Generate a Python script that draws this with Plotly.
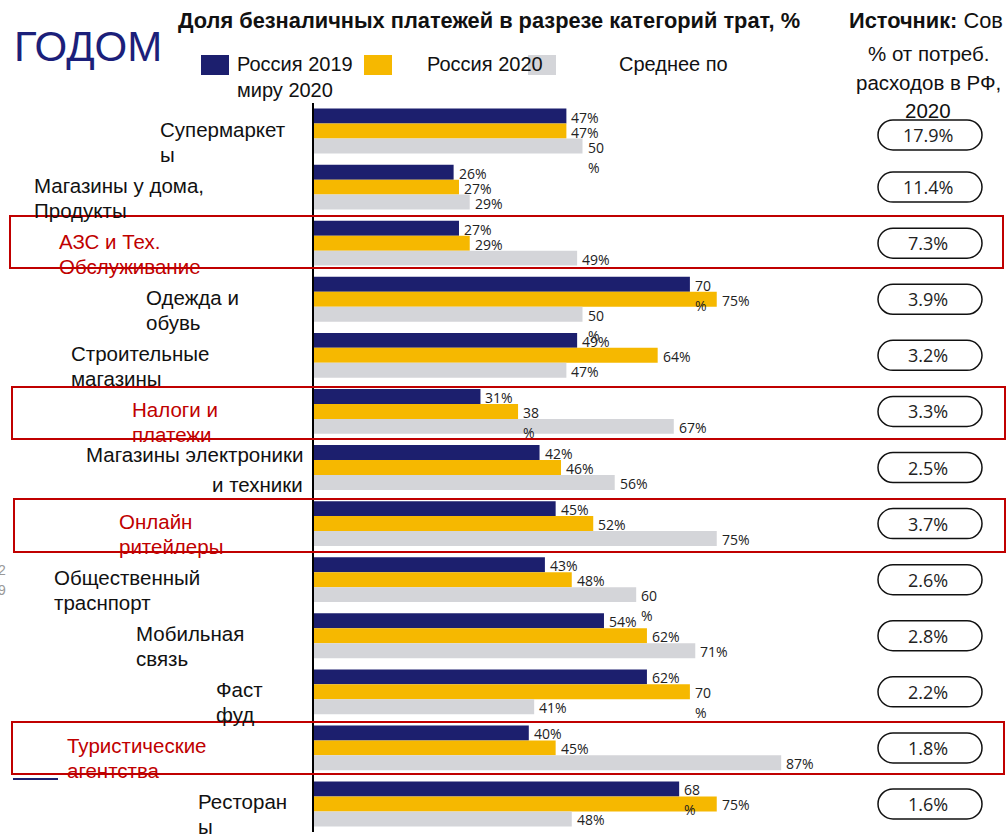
import plotly.graph_objects as go

# ---------------- data ----------------
categories = ["Супермаркеты", "Магазины у дома, Продукты", "АЗС и Тех. Обслуживание",
              "Одежда и обувь", "Строительные магазины", "Налоги и платежи",
              "Магазины электроники и техники", "Онлайн ритейлеры", "Общественный траснпорт",
              "Мобильная связь", "Фаст фуд", "Туристические агентства", "Рестораны"]
label_lines = [("Супермаркет", "ы"), ("Магазины у дома,", "Продукты"), ("АЗС и Тех.", "Обслуживание"),
               ("Одежда и", "обувь"), ("Строительные", "магазины"), ("Налоги и", "платежи"),
               ("Магазины электроники", "и техники"), ("Онлайн", "ритейлеры"), ("Общественный", "траснпорт"),
               ("Мобильная", "связь"), ("Фаст", "фуд"), ("Туристические", "агентства"), ("Ресторан", "ы")]
russia_2019 = [47, 26, 27, 70, 49, 31, 42, 45, 43, 54, 62, 40, 68]
russia_2020 = [47, 27, 29, 75, 64, 38, 46, 52, 48, 62, 70, 45, 75]
world_2020 = [50, 29, 49, 50, 47, 67, 56, 75, 60, 71, 41, 87, 48]
share_of_spending = ["17.9%", "11.4%", "7.3%", "3.9%", "3.2%", "3.3%", "2.5%",
                     "3.7%", "2.6%", "2.8%", "2.2%", "1.8%", "1.6%"]
series_names = ["Россия 2019", "Россия 2020", "Среднее по миру 2020"]
highlighted = [2, 5, 7, 11]

# ---------------- styles ----------------
W, H = 1006, 836
ML, MR, MT, MB = 314, 155, 103, 4
PW, PH = W - ML - MR, H - MT - MB
NAVY, YELLOW, GRAY, RED = "#1C1F6E", "#F6B800", "#D4D5D9", "#C00000"
FONT = "Liberation Sans"
NUMFONT = "Open Sans"


def px(x):
    return (x - ML) / PW


def py(y):
    return (H - MB - y) / PH


# label positions (left x px, alignment)
label_pos = [(158, "left"), (32, "left"), (57, "left"), (144, "left"), (69, "left"), (130, "left"),
             (305, "right"), (117, "left"), (52, "left"), (134, "left"), (214, "left"), (65, "left"),
             (196, "left")]
wrapped = {(2, 0), (0, 3), (2, 3), (1, 5), (2, 8), (1, 10), (0, 12)}

fig = go.Figure()
colors = [NAVY, YELLOW, GRAY]
for name, vals, col in zip(series_names, [russia_2019, russia_2020, world_2020], colors):
    fig.add_trace(go.Bar(y=categories, x=vals, orientation="h", name=name,
                         marker=dict(color=col, line=dict(width=0)), showlegend=False,
                         hoverinfo="x+y"))

ann = []
shapes = []
offsets = [15, 0, -15]
NUMF = dict(family=NUMFONT, size=14, color="#222")
for t, vals in enumerate([russia_2019, russia_2020, world_2020]):
    for i, v in enumerate(vals):
        if (t, i) in wrapped:
            ann.append(dict(x=v, y=categories[i], xref="x", yref="y", text=f"{v}", showarrow=False,
                            xanchor="left", yanchor="middle", xshift=3, yshift=offsets[t] - 1, font=NUMF))
            ann.append(dict(x=v, y=categories[i], xref="x", yref="y", text="%", showarrow=False,
                            xanchor="left", yanchor="middle", xshift=3, yshift=offsets[t] - 21, font=NUMF))
        else:
            ann.append(dict(x=v, y=categories[i], xref="x", yref="y", text=f"{v}%", showarrow=False,
                            xanchor="left", yanchor="middle", xshift=3, yshift=offsets[t] - 1, font=NUMF))

# category labels
for i, (lines, (lx, al)) in enumerate(zip(label_lines, label_pos)):
    col = RED if i in highlighted else "#111"
    y1, y2 = (13, -17) if i == 6 else (2, -23)
    for txt_, ys in zip(lines, (y1, y2)):
        ann.append(dict(x=px(lx), y=categories[i], xref="paper", yref="y", text=txt_, showarrow=False,
                        xanchor=al, yanchor="middle", yshift=ys,
                        font=dict(family=FONT, size=20.5, color=col)))

# pills
r = 15
hw = 52
k = 0.5523 * r
pill = (f"M {-hw + r} {-r} L {hw - r} {-r} C {hw - r + k} {-r} {hw} {-k} {hw} 0 "
        f"C {hw} {k} {hw - r + k} {r} {hw - r} {r} L {-hw + r} {r} "
        f"C {-hw + r - k} {r} {-hw} {k} {-hw} 0 C {-hw} {-k} {-hw + r - k} {-r} {-hw + r} {-r} Z")
for i, s in enumerate(share_of_spending):
    ys = -4 if i == 0 else 0
    shapes.append(dict(type="path", xref="paper", yref="y", xsizemode="pixel", ysizemode="pixel",
                       xanchor=px(930), yanchor=i + (0.07 if i == 0 else 0), path=pill,
                       line=dict(color="#111", width=1.5), fillcolor="rgba(0,0,0,0)"))
    ann.append(dict(x=px(928), y=categories[i], xref="paper", yref="y", text=s, showarrow=False,
                    xanchor="center", yanchor="middle", yshift=ys,
                    font=dict(family=NUMFONT, size=18, color="#222")))

# red highlight boxes
for (x0, y0, x1, y1) in [(10, 216, 1003, 268), (12, 387, 1005, 439), (14, 499, 1005, 552), (12, 722, 1004, 774)]:
    shapes.append(dict(type="rect", xref="paper", yref="paper", x0=px(x0), x1=px(x1), y0=py(y0), y1=py(y1),
                       line=dict(color=RED, width=2), fillcolor="rgba(0,0,0,0)"))

# legend squares
for (x0, x1, col) in [(201, 229, NAVY), (364, 392, YELLOW), (528, 556, GRAY)]:
    shapes.append(dict(type="rect", xref="paper", yref="paper", x0=px(x0), x1=px(x1), y0=py(55), y1=py(75),
                       line=dict(width=0), fillcolor=col, layer="below"))

# small navy line bottom-left
shapes.append(dict(type="line", xref="paper", yref="paper", x0=px(13), x1=px(58), y0=py(779), y1=py(779),
                   line=dict(color=NAVY, width=2)))


def txt(x, y, s, size=18, family=FONT, color="#111", xanchor="left"):
    ann.append(dict(x=px(x), y=py(y), xref="paper", yref="paper", text=s, showarrow=False,
                    xanchor=xanchor, yanchor="middle", font=dict(family=family, size=size, color=color)))


txt(12, 46, "ГОДОМ", size=42, color="#1C1F7A")
txt(176, 20, "<b>Доля безналичных платежей в разрезе категорий трат, %</b>", size=21.8)
txt(847, 20, "<b>Источник:</b> Сов", size=21.8)
txt(235, 64, "Россия 2019", size=20)
txt(425, 64, "Россия 2020", size=20)
txt(617, 64, "Среднее по", size=20)
txt(235, 90, "миру 2020", size=20)
txt(928, 54, "% от потреб.", size=20.5, xanchor="center")
txt(928, 83, "расходов в РФ,", size=20.5, xanchor="center")
txt(928, 111, "2020", size=20.5, xanchor="center")
txt(-4, 570, "2", size=14, color="#999")
txt(-4, 590, "9", size=14, color="#999")

fig.update_layout(
    width=W, height=H, margin=dict(l=ML, r=MR, t=MT, b=MB),
    paper_bgcolor="white", plot_bgcolor="white",
    barmode="group", bargap=0.2, bargroupgap=0,
    xaxis=dict(range=[0, 100], visible=False, fixedrange=True),
    yaxis=dict(range=[len(categories) - 0.5, -0.5], autorange=False, showticklabels=False, ticks="",
               showgrid=False, zeroline=False, showline=True, linecolor="black", linewidth=2,
               fixedrange=True),
    annotations=ann, shapes=shapes, showlegend=False,
)

fig.write_html("out.html", config={"displayModeBar": False},
               post_script="document.body.style.margin='0';")
